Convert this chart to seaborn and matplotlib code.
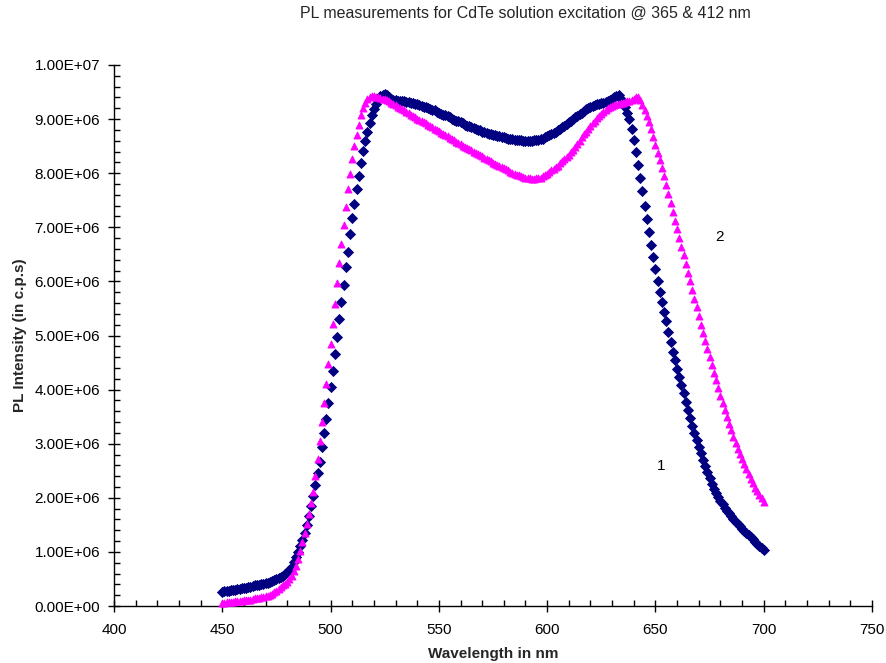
import matplotlib
matplotlib.use("Agg")
import matplotlib.pyplot as plt
import seaborn as sns
import numpy as np
import pandas as pd
from matplotlib.ticker import MultipleLocator, FuncFormatter

# ---------------- data (PL intensity in millions of c.p.s) ----------------
wavelength = list(range(450, 701))

series1_pl = [
    0.26, 0.27, 0.28, 0.28, 0.29, 0.30, 0.30, 0.31, 0.32, 0.33,
    0.33, 0.34, 0.35, 0.36, 0.37, 0.38, 0.38, 0.39, 0.40, 0.41,
    0.42, 0.43, 0.45, 0.46, 0.48, 0.50, 0.51, 0.53, 0.56, 0.59,
    0.62, 0.67, 0.73, 0.81, 0.90, 1.00, 1.11, 1.22, 1.35, 1.50,
    1.66, 1.84, 2.03, 2.24, 2.45, 2.67, 2.93, 3.19, 3.46, 3.76,
    4.05, 4.34, 4.66, 4.98, 5.30, 5.62, 5.94, 6.26, 6.55, 6.88,
    7.18, 7.43, 7.70, 7.95, 8.19, 8.41, 8.60, 8.77, 8.93, 9.08,
    9.18, 9.28, 9.36, 9.42, 9.45, 9.46, 9.44, 9.41, 9.38, 9.36,
    9.35, 9.34, 9.34, 9.33, 9.33, 9.32, 9.31, 9.30, 9.29, 9.28,
    9.27, 9.26, 9.25, 9.23, 9.22, 9.20, 9.19, 9.17, 9.16, 9.14,
    9.12, 9.10, 9.08, 9.07, 9.05, 9.03, 9.01, 8.99, 8.97, 8.96,
    8.94, 8.92, 8.90, 8.88, 8.87, 8.85, 8.83, 8.82, 8.80, 8.79,
    8.77, 8.76, 8.74, 8.73, 8.72, 8.71, 8.70, 8.69, 8.68, 8.67,
    8.66, 8.65, 8.64, 8.63, 8.63, 8.62, 8.62, 8.61, 8.61, 8.60,
    8.60, 8.60, 8.60, 8.60, 8.61, 8.61, 8.62, 8.63, 8.64, 8.66,
    8.68, 8.70, 8.72, 8.74, 8.76, 8.79, 8.82, 8.85, 8.88, 8.91,
    8.94, 8.97, 9.00, 9.03, 9.06, 9.09, 9.12, 9.15, 9.18, 9.21,
    9.23, 9.25, 9.26, 9.27, 9.28, 9.29, 9.30, 9.31, 9.33, 9.35,
    9.38, 9.40, 9.42, 9.44, 9.38, 9.30, 9.22, 9.12, 9.00, 8.82,
    8.62, 8.40, 8.16, 7.92, 7.68, 7.40, 7.15, 6.91, 6.68, 6.45,
    6.23, 6.01, 5.80, 5.62, 5.44, 5.26, 5.07, 4.88, 4.69, 4.54,
    4.39, 4.24, 4.09, 3.94, 3.78, 3.62, 3.47, 3.33, 3.20, 3.07,
    2.94, 2.82, 2.70, 2.59, 2.47, 2.36, 2.25, 2.16, 2.08, 2.01,
    1.94, 1.88, 1.82, 1.76, 1.71, 1.66, 1.61, 1.56, 1.51, 1.47,
    1.43, 1.39, 1.35, 1.31, 1.27, 1.23, 1.19, 1.15, 1.11, 1.08,
    1.04,
]

series2_pl = [
    0.05, 0.06, 0.07, 0.07, 0.08, 0.08, 0.09, 0.09, 0.10, 0.10,
    0.11, 0.11, 0.12, 0.12, 0.13, 0.14, 0.14, 0.15, 0.16, 0.17,
    0.18, 0.19, 0.21, 0.23, 0.25, 0.28, 0.31, 0.35, 0.38, 0.41,
    0.45, 0.50, 0.56, 0.64, 0.74, 0.87, 1.02, 1.18, 1.35, 1.52,
    1.70, 1.90, 2.10, 2.40, 2.72, 3.05, 3.40, 3.75, 4.10, 4.47,
    4.85, 5.21, 5.58, 5.97, 6.34, 6.70, 7.04, 7.38, 7.70, 7.99,
    8.26, 8.50, 8.71, 8.90, 9.07, 9.20, 9.30, 9.37, 9.41, 9.42,
    9.42, 9.41, 9.40, 9.39, 9.38, 9.37, 9.35, 9.33, 9.30, 9.28,
    9.26, 9.23, 9.21, 9.18, 9.16, 9.13, 9.11, 9.08, 9.06, 9.03,
    9.01, 8.99, 8.96, 8.94, 8.92, 8.89, 8.87, 8.85, 8.82, 8.80,
    8.78, 8.75, 8.73, 8.70, 8.68, 8.65, 8.63, 8.61, 8.58, 8.56,
    8.54, 8.51, 8.49, 8.47, 8.44, 8.42, 8.40, 8.37, 8.35, 8.33,
    8.31, 8.28, 8.26, 8.24, 8.22, 8.19, 8.17, 8.15, 8.13, 8.11,
    8.09, 8.07, 8.05, 8.03, 8.01, 7.99, 7.97, 7.96, 7.94, 7.93,
    7.92, 7.91, 7.91, 7.90, 7.90, 7.91, 7.91, 7.92, 7.94, 7.96,
    7.99, 8.02, 8.05, 8.08, 8.11, 8.14, 8.18, 8.22, 8.26, 8.30,
    8.34, 8.39, 8.43, 8.48, 8.54, 8.60, 8.66, 8.72, 8.77, 8.82,
    8.87, 8.92, 8.97, 9.02, 9.06, 9.10, 9.14, 9.17, 9.20, 9.22,
    9.24, 9.26, 9.27, 9.28, 9.29, 9.30, 9.31, 9.33, 9.34, 9.36,
    9.38, 9.40, 9.41, 9.36, 9.26, 9.16, 9.06, 8.94, 8.81, 8.66,
    8.52, 8.38, 8.24, 8.10, 7.95, 7.79, 7.61, 7.45, 7.28, 7.12,
    6.96, 6.80, 6.64, 6.48, 6.32, 6.16, 6.00, 5.84, 5.68, 5.52,
    5.36, 5.20, 5.05, 4.90, 4.75, 4.60, 4.45, 4.31, 4.17, 4.03,
    3.89, 3.76, 3.63, 3.50, 3.37, 3.25, 3.13, 3.02, 2.91, 2.81,
    2.71, 2.62, 2.53, 2.44, 2.35, 2.27, 2.19, 2.12, 2.05, 1.99,
    1.93,
]

series_labels = ["1", "2"]
label_pos_nm = [652.6, 679.8]
label_pos_val = [2.59, 6.82]

title = "PL measurements for CdTe solution excitation @ 365 & 412 nm"
xlabel = "Wavelength in nm"
ylabel = "PL Intensity (in c.p.s)"

df1 = pd.DataFrame({"wl": wavelength, "pl": np.array(series1_pl) * 1e6})
df2 = pd.DataFrame({"wl": wavelength, "pl": np.array(series2_pl) * 1e6})

# ---------------- drawing ----------------
sns.set_style("ticks")
plt.rcParams['font.family'] = ['Liberation Sans', 'DejaVu Sans']

fig = plt.figure(figsize=(8.86, 6.63), dpi=100)
ax = fig.add_axes([114 / 886, 57 / 663, 758 / 886, 541 / 663])

sns.scatterplot(data=df1, x="wl", y="pl", marker="D", s=26, color="#000080",
                edgecolor="#000080", linewidth=0.6, ax=ax, zorder=3, clip_on=False)
sns.scatterplot(data=df2, x="wl", y="pl", marker="^", s=26, color="#FF00FF",
                edgecolor="#FF00FF", linewidth=0.6, ax=ax, zorder=4, clip_on=False)

for lab, xn, yv in zip(series_labels, label_pos_nm, label_pos_val):
    ax.text(xn, yv * 1e6, lab, fontsize=11, ha="center", va="center", color="black")

ax.set_xlim(400, 750)
ax.set_ylim(0, 1e7)
ax.xaxis.set_major_locator(MultipleLocator(50))
ax.xaxis.set_minor_locator(MultipleLocator(10))
ax.yaxis.set_major_locator(MultipleLocator(1e6))
ax.yaxis.set_minor_locator(MultipleLocator(2e5))
ax.yaxis.set_major_formatter(FuncFormatter(lambda v, p: f"{v:.2E}"))

ax.tick_params(which="major", direction="inout", length=8, width=1, colors="black",
               labelsize=11)
ax.tick_params(axis="x", which="major", pad=8)
ax.tick_params(axis="y", which="major", pad=6)
ax.tick_params(which="minor", direction="in", length=4, width=1, colors="black")

sns.despine(ax=ax)
for sp in ["left", "bottom"]:
    ax.spines[sp].set_color("black")
    ax.spines[sp].set_linewidth(1)

ax.set_xlabel(xlabel, fontsize=11, fontweight="bold")
ax.set_ylabel(ylabel, fontsize=11, fontweight="bold")
ax.xaxis.set_label_coords(0.5, -0.075)
ax.yaxis.set_label_coords(-0.115, 0.5)

fig.text(525 / 886, 1 - 13 / 663, title, ha="center", va="center", fontsize=11.5)

fig.savefig("out.png", dpi=100)
